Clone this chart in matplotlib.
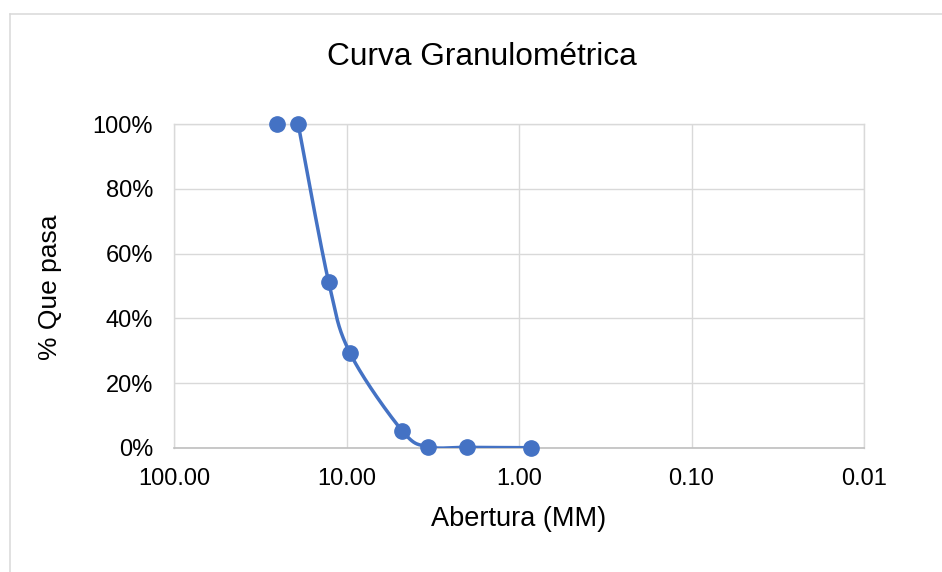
import numpy as np
import matplotlib
matplotlib.use("Agg")
import matplotlib.pyplot as plt
from matplotlib.ticker import FixedLocator, FixedFormatter, NullLocator, PercentFormatter

plt.rcParams['font.family'] = ['Liberation Sans', 'DejaVu Sans']

# data
abertura_mm = [25.4, 19.05, 12.7, 9.525, 4.75, 3.35, 2.0, 0.85]
que_pasa = [1.00, 1.00, 0.513, 0.292, 0.052, 0.003, 0.001, 0.0]
x_ticks = [100, 10, 1, 0.1, 0.01]
x_tick_labels = ["100.00", "10.00", "1.00", "0.10", "0.01"]
y_ticks = [0, 0.2, 0.4, 0.6, 0.8, 1.0]

blue = "#4472C4"
grid_c = "#d9d9d9"


def smooth(xs, ys, n=40):
    # Excel-like smoothed line: Catmull-Rom bezier in (log x, y)
    u = np.log10(xs)
    v = np.asarray(ys, dtype=float)
    pts = np.column_stack([u, v])
    pts = np.vstack([pts[0], pts, pts[-1]])
    out = []
    for i in range(1, len(pts) - 2):
        p0, p1, p2, p3 = pts[i - 1], pts[i], pts[i + 1], pts[i + 2]
        c1 = p1 + (p2 - p0) / 6
        c2 = p2 - (p3 - p1) / 6
        t = np.linspace(0, 1, n)[:, None]
        seg = ((1 - t) ** 3) * p1 + 3 * ((1 - t) ** 2) * t * c1 + 3 * (1 - t) * t ** 2 * c2 + t ** 3 * p2
        out.append(seg)
    out = np.vstack(out)
    return 10 ** out[:, 0], out[:, 1]


fig = plt.figure(figsize=(9.42, 5.72), dpi=100)
ax = fig.add_axes([174 / 942, 1 - 447.7 / 572, 690 / 942, 323.4 / 572])

sx, sy = smooth(abertura_mm[1:], que_pasa[1:])
ax.plot(sx, sy, color=blue, lw=2.5, zorder=3, solid_capstyle='round')
ax.plot(abertura_mm, que_pasa, 'o', color=blue, ms=11, zorder=4, clip_on=False)

ax.set_xscale('log')
ax.set_xlim(100, 0.01)
ax.set_ylim(0, 1)
ax.xaxis.set_major_locator(FixedLocator(x_ticks))
ax.xaxis.set_major_formatter(FixedFormatter(x_tick_labels))
ax.xaxis.set_minor_locator(NullLocator())
ax.yaxis.set_major_locator(FixedLocator(y_ticks))
ax.yaxis.set_major_formatter(PercentFormatter(1.0, decimals=0))

ax.grid(True, color=grid_c, lw=1.0)
ax.set_axisbelow(True)
for s in ['left', 'right', 'top']:
    ax.spines[s].set_color(grid_c)
    ax.spines[s].set_linewidth(1.0)
ax.spines['bottom'].set_color("#bfbfbf")
ax.spines['bottom'].set_linewidth(1.2)
ax.tick_params(length=0, labelsize=17, colors="black")
ax.tick_params(axis='x', pad=14.5)
ax.tick_params(axis='y', pad=15)

fig.text(482 / 942, 1 - 65 / 572, "Curva Granulométrica", ha='center', va='baseline', fontsize=22.8)
fig.text(519 / 942, 1 - 526 / 572, "Abertura (MM)", ha='center', va='baseline', fontsize=19.5)
fig.text(50 / 942, 1 - 287 / 572, "% Que pasa", ha='center', va='center', rotation=90, fontsize=19)

# outer chart border
fig.add_artist(plt.Line2D([10 / 942, 10 / 942], [0, 1 - 14 / 572], color=grid_c, lw=1.1))
fig.add_artist(plt.Line2D([10 / 942, 1], [1 - 14 / 572, 1 - 14 / 572], color=grid_c, lw=1.1))

fig.savefig("out.png", dpi=100)
